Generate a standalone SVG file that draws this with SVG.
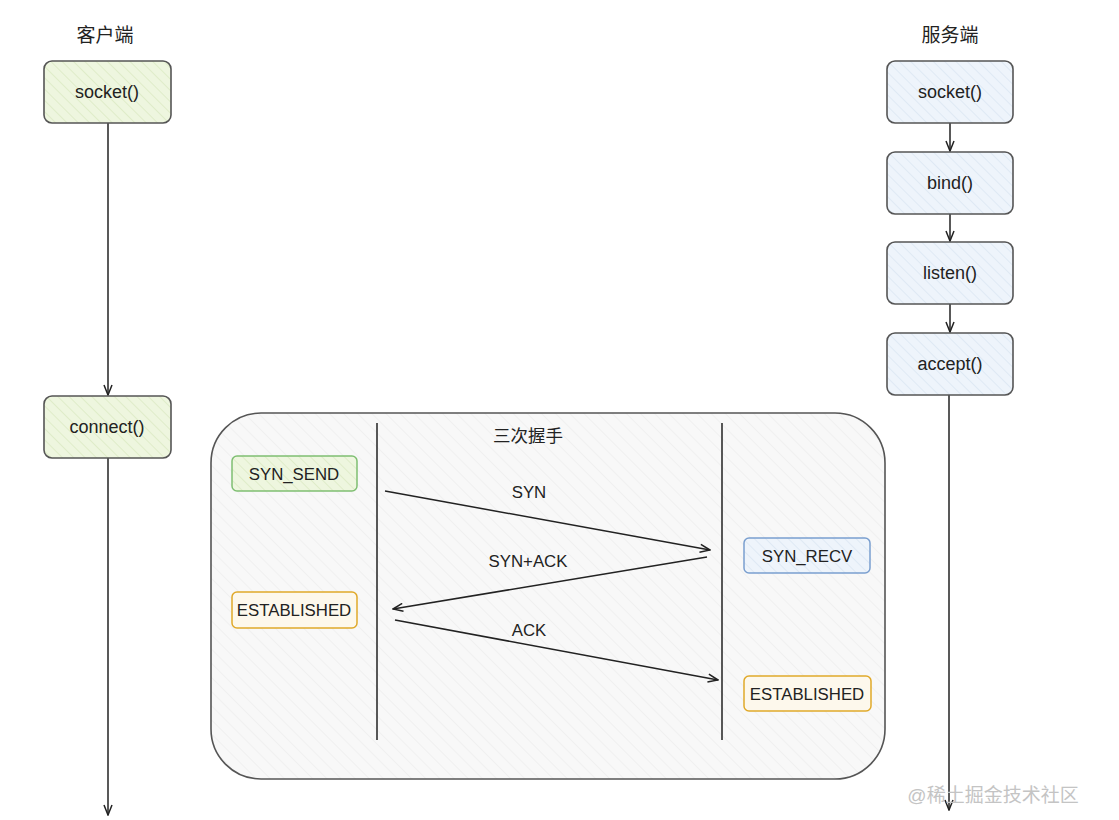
<svg xmlns="http://www.w3.org/2000/svg" width="1119" height="820" viewBox="0 0 1119 820">
<style>
text{font-family:"Liberation Sans",Arial,"Noto Sans CJK SC",sans-serif;fill:#222;text-anchor:middle;dominant-baseline:central}
.lbl{font-size:18px}
.hd{font-size:19px}
.node{stroke:#555;stroke-width:1.6}
.g{fill:url(#hg)}
.b{fill:url(#hb)}
.st{font-size:16.8px}
.line{stroke:#222;stroke-width:1.5;fill:none}
.arr{stroke:#222;stroke-width:1.5;fill:none;marker-end:url(#ah)}
</style>
<defs>
<pattern id="hg" width="8" height="8" patternUnits="userSpaceOnUse" patternTransform="rotate(-45)">
<rect width="8" height="8" fill="#eef6df"/><line x1="0" y1="0" x2="0" y2="8" stroke="#dbe9c2" stroke-width="1.5"/>
</pattern>
<pattern id="hb" width="8" height="8" patternUnits="userSpaceOnUse" patternTransform="rotate(-45)">
<rect width="8" height="8" fill="#eef4fb"/><line x1="0" y1="0" x2="0" y2="8" stroke="#dbe6f2" stroke-width="1.5"/>
</pattern>
<pattern id="hgr" width="10" height="10" patternUnits="userSpaceOnUse" patternTransform="rotate(-45)">
<rect width="10" height="10" fill="#f8f8f8"/><line x1="0" y1="0" x2="0" y2="10" stroke="#f0f0f0" stroke-width="2"/>
</pattern>
<marker id="ah" viewBox="0 0 12 10" refX="11" refY="5" markerWidth="12" markerHeight="10" markerUnits="userSpaceOnUse" orient="auto">
<path d="M1,1 L11,5 L1,9" fill="none" stroke="#222" stroke-width="1.5"/>
</marker>
</defs>

<g id="connectors">
<path class="arr" d="M108,123 L108,395"/>
<path class="arr" d="M108,458 L108,815"/>
<path class="arr" d="M950,123 L950,151"/>
<path class="arr" d="M950,214 L950,241"/>
<path class="arr" d="M950,304 L950,332"/>
<path class="arr" d="M949,395 L949,810"/>
</g>

<text class="hd" x="105" y="35">客户端</text>
<text class="hd" x="950" y="35">服务端</text>

<g id="client-socket"><rect class="node g" x="44" y="61" width="127" height="62" rx="8"/><text class="lbl" x="107" y="92">socket()</text></g>
<g id="client-connect"><rect class="node g" x="44" y="396" width="127" height="62" rx="8"/><text class="lbl" x="107" y="427">connect()</text></g>

<g id="server-socket"><rect class="node b" x="887" y="61" width="126" height="62" rx="8"/><text class="lbl" x="950" y="92">socket()</text></g>
<g id="server-bind"><rect class="node b" x="887" y="152" width="126" height="62" rx="8"/><text class="lbl" x="950" y="183">bind()</text></g>
<g id="server-listen"><rect class="node b" x="887" y="242" width="126" height="62" rx="8"/><text class="lbl" x="950" y="273">listen()</text></g>
<g id="server-accept"><rect class="node b" x="887" y="333" width="126" height="62" rx="8"/><text class="lbl" x="950" y="364">accept()</text></g>

<g id="handshake">
<rect x="211" y="413" width="674" height="366" rx="50" fill="url(#hgr)" stroke="#555" stroke-width="1.6"/>
<text x="528" y="436" style="font-size:17.5px">三次握手</text>
<line class="line" x1="377" y1="423" x2="377" y2="740"/>
<line class="line" x1="722" y1="423" x2="722" y2="740"/>
</g>

<g id="syn-send"><rect x="232" y="456" width="125" height="35" rx="5" fill="url(#hg)" stroke="#7fbf72" stroke-width="1.5"/><text class="st" x="294" y="474">SYN_SEND</text></g>
<g id="established-left"><rect x="232" y="592" width="125" height="36" rx="5" fill="#fdf8ec" stroke="#e0a92a" stroke-width="1.5"/><text class="st" x="294" y="610">ESTABLISHED</text></g>
<g id="syn-recv"><rect x="744" y="538" width="126" height="35" rx="5" fill="url(#hb)" stroke="#7a9fcf" stroke-width="1.5"/><text class="st" x="807" y="556">SYN_RECV</text></g>
<g id="established-right"><rect x="744" y="676" width="127" height="35" rx="5" fill="#fdf8ec" stroke="#e0a92a" stroke-width="1.5"/><text class="st" x="807" y="694">ESTABLISHED</text></g>

<g id="messages">
<path class="arr" d="M385,491 L710,550"/>
<text class="st" x="529" y="492">SYN</text>
<path class="arr" d="M707,557 L393,609"/>
<text class="st" x="528" y="561">SYN+ACK</text>
<path class="arr" d="M395,620 L718,680"/>
<text class="st" x="529" y="630">ACK</text>
</g>

<text x="993" y="795" style="font-size:19px;fill:#c4c4c4">@稀土掘金技术社区</text>
</svg>
